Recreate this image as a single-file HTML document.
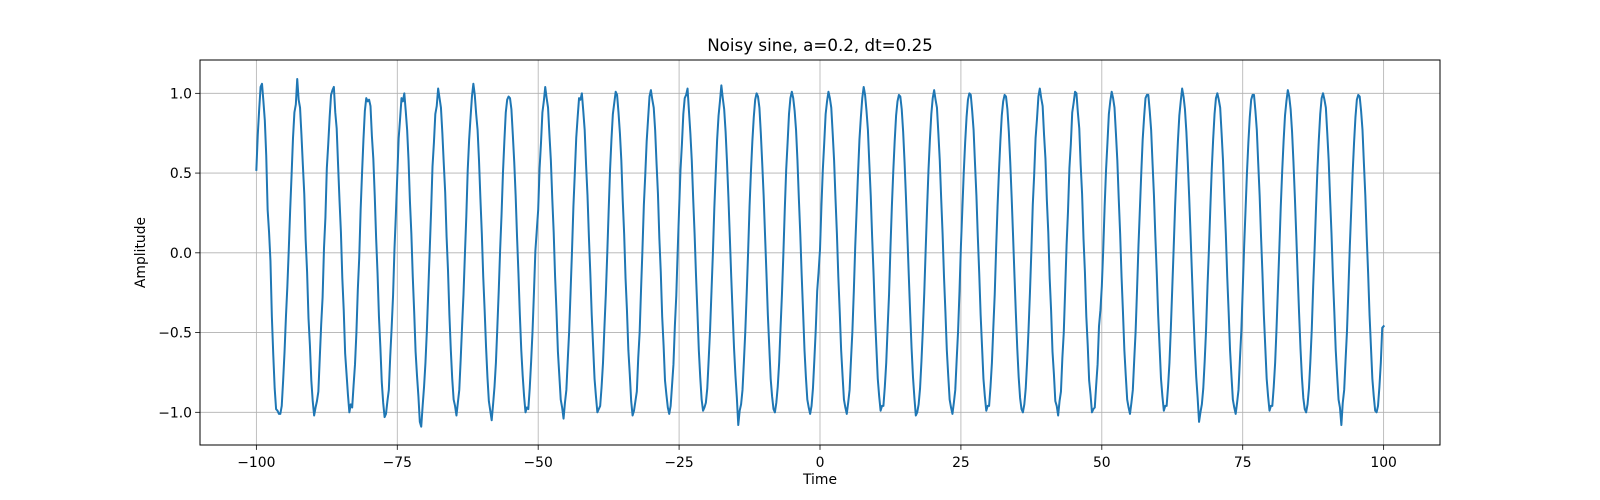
<!DOCTYPE html>
<html><head><meta charset="utf-8"><style>
html,body{margin:0;padding:0;background:#fff;}
svg{display:block;font-family:"DejaVu Sans","Liberation Sans",sans-serif;}
</style></head><body>
<svg id="chart" width="1600" height="500" viewBox="0 0 1600 500" xmlns="http://www.w3.org/2000/svg">
<rect x="0" y="0" width="1600" height="500" fill="#fff"/>
<text x="820" y="51" text-anchor="middle" font-size="16.7" fill="#000">Noisy sine, a=0.2, dt=0.25</text>
<g id="grid"></g>
<g id="series"></g>
<rect x="200" y="60" width="1240" height="385" fill="none" stroke="#000" stroke-width="1"/>
<g id="ticks"></g>
<text x="820" y="484" text-anchor="middle" font-size="13.9" fill="#000">Time</text>
<text x="145" y="252.5" text-anchor="middle" font-size="13.9" fill="#000" transform="rotate(-90 145 252.5)">Amplitude</text>
</svg>
<script>
const tStart = -100;
const dt = 0.25;
const xTicks = [-100, -75, -50, -25, 0, 25, 50, 75, 100];
const xTickLabels = ["\u2212100", "\u221275", "\u221250", "\u221225", "0", "25", "50", "75", "100"];
const yTicks = [-1.0, -0.5, 0.0, 0.5, 1.0];
const yTickLabels = ["\u22121.0", "\u22120.5", "0.0", "0.5", "1.0"];
const amplitude = [
0.52,0.74,0.90,1.04,1.06,0.95,0.83,0.61,0.27,0.13,-0.05,-0.40,-0.64,-0.85,-0.98,-0.99,-1.01,-1.01,-0.96,-0.80,-0.62,-0.40,-0.21,0.02,0.27,
0.49,0.72,0.88,0.93,1.09,0.96,0.91,0.74,0.55,0.37,0.08,-0.12,-0.41,-0.58,-0.80,-0.93,-1.02,-0.97,-0.93,-0.87,-0.66,-0.45,-0.28,0.03,0.22,
0.53,0.68,0.85,0.99,1.02,1.04,0.88,0.78,0.55,0.33,0.13,-0.16,-0.36,-0.63,-0.76,-0.89,-1.00,-0.95,-0.97,-0.83,-0.70,-0.50,-0.23,-0.03,0.27,
0.50,0.71,0.89,0.97,0.95,0.96,0.92,0.73,0.59,0.36,0.09,-0.13,-0.40,-0.59,-0.81,-0.94,-1.03,-1.01,-0.93,-0.86,-0.65,-0.47,-0.27,0.02,0.24,
0.48,0.72,0.84,0.97,0.95,1.00,0.89,0.77,0.58,0.32,0.12,-0.15,-0.37,-0.62,-0.77,-0.90,-1.06,-1.09,-0.96,-0.84,-0.69,-0.49,-0.24,0.01,0.26,
0.54,0.69,0.87,0.92,1.03,0.97,0.91,0.75,0.56,0.38,0.10,-0.11,-0.39,-0.61,-0.79,-0.92,-0.96,-1.02,-0.94,-0.86,-0.67,-0.46,-0.26,-0.01,0.23,
0.52,0.71,0.85,0.98,1.06,0.99,0.87,0.77,0.58,0.34,0.12,-0.15,-0.36,-0.59,-0.78,-0.93,-0.99,-1.05,-0.95,-0.84,-0.69,-0.47,-0.24,0.02,0.24,
0.50,0.70,0.88,0.96,0.98,0.97,0.90,0.74,0.57,0.36,0.10,-0.13,-0.39,-0.61,-0.77,-0.90,-1.00,-0.97,-0.98,-0.85,-0.68,-0.49,-0.25,0.01,0.14,
0.27,0.53,0.69,0.88,0.95,1.04,0.97,0.91,0.74,0.58,0.34,0.13,-0.15,-0.37,-0.62,-0.77,-0.92,-0.97,-1.04,-0.94,-0.86,-0.67,-0.49,-0.24,0.01,
0.29,0.50,0.72,0.85,0.97,0.96,1.00,0.89,0.77,0.55,0.36,0.10,-0.13,-0.39,-0.59,-0.79,-0.90,-1.00,-0.98,-0.96,-0.84,-0.69,-0.47,-0.26,-0.01,
0.26,0.52,0.71,0.87,0.94,1.01,0.99,0.88,0.75,0.58,0.33,0.12,-0.16,-0.36,-0.61,-0.76,-0.93,-1.02,-0.99,-0.93,-0.87,-0.66,-0.50,-0.23,0.02,
0.30,0.49,0.70,0.84,0.98,1.02,0.96,0.91,0.77,0.56,0.37,0.09,-0.12,-0.40,-0.58,-0.80,-0.89,-0.97,-1.01,-0.96,-0.83,-0.70,-0.46,-0.27,0.01,
0.27,0.52,0.68,0.87,0.97,0.99,1.03,0.89,0.75,0.58,0.34,0.12,-0.14,-0.37,-0.61,-0.78,-0.92,-0.99,-0.97,-0.94,-0.85,-0.67,-0.48,-0.24,0.00,
0.28,0.50,0.71,0.86,0.95,1.05,0.97,0.90,0.76,0.57,0.35,0.10,-0.15,-0.38,-0.60,-0.77,-0.91,-1.08,-0.99,-0.95,-0.86,-0.68,-0.49,-0.25,0.01,
0.29,0.51,0.70,0.85,0.96,1.00,0.98,0.91,0.75,0.56,0.36,0.11,-0.13,-0.39,-0.59,-0.79,-0.90,-0.98,-1.00,-0.94,-0.84,-0.69,-0.47,-0.26,-0.01,
0.27,0.52,0.69,0.87,0.97,1.01,0.97,0.89,0.77,0.58,0.34,0.12,-0.14,-0.37,-0.61,-0.78,-0.92,-0.97,-1.01,-0.96,-0.85,-0.67,-0.48,-0.24,-0.12,
0.02,0.29,0.52,0.69,0.87,0.95,1.01,0.97,0.91,0.75,0.58,0.34,0.12,-0.15,-0.37,-0.61,-0.77,-0.92,-0.97,-1.01,-0.94,-0.86,-0.67,-0.49,-0.24,
0.04,0.27,0.50,0.71,0.85,0.97,1.04,0.99,0.89,0.77,0.56,0.36,0.10,-0.13,-0.39,-0.59,-0.79,-0.90,-0.99,-0.96,-0.96,-0.84,-0.69,-0.47,-0.26,
0.03,0.29,0.51,0.70,0.86,0.95,0.99,0.98,0.90,0.76,0.57,0.35,0.11,-0.14,-0.38,-0.60,-0.78,-0.91,-1.02,-1.00,-0.95,-0.85,-0.68,-0.48,-0.25,
0.02,0.28,0.52,0.71,0.87,0.97,1.02,0.96,0.91,0.75,0.58,0.34,0.12,-0.15,-0.37,-0.61,-0.77,-0.92,-0.97,-1.01,-0.94,-0.86,-0.67,-0.49,-0.24,
0.04,0.27,0.50,0.69,0.85,0.96,1.00,0.99,0.89,0.77,0.56,0.36,0.10,-0.13,-0.39,-0.59,-0.79,-0.90,-0.99,-0.96,-0.96,-0.84,-0.69,-0.47,-0.26,
0.03,0.29,0.51,0.70,0.86,0.95,0.99,0.98,0.90,0.76,0.57,0.35,0.11,-0.14,-0.38,-0.60,-0.78,-0.91,-0.98,-1.00,-0.95,-0.85,-0.68,-0.48,-0.25,
0.01,0.30,0.49,0.72,0.84,0.98,1.03,0.97,0.92,0.74,0.59,0.33,0.13,-0.16,-0.36,-0.62,-0.76,-0.93,-0.96,-1.02,-0.93,-0.87,-0.66,-0.50,-0.23,
0.05,0.26,0.53,0.68,0.88,0.94,1.01,1.00,0.88,0.78,0.55,0.37,0.09,-0.12,-0.40,-0.58,-0.80,-0.89,-1.00,-0.98,-0.97,-0.83,-0.70,-0.46,-0.36,
-0.21,0.02,0.29,0.52,0.69,0.87,0.95,1.01,0.97,0.91,0.75,0.58,0.34,0.12,-0.15,-0.37,-0.61,-0.77,-0.92,-0.97,-1.01,-0.94,-0.86,-0.67,-0.49,
-0.23,0.04,0.27,0.50,0.71,0.85,0.97,0.99,0.99,0.89,0.77,0.56,0.36,0.10,-0.13,-0.39,-0.59,-0.79,-0.90,-0.99,-0.96,-0.96,-0.84,-0.69,-0.47,
-0.22,0.03,0.29,0.51,0.70,0.86,0.95,1.03,0.98,0.90,0.76,0.57,0.35,0.11,-0.14,-0.38,-0.60,-0.78,-0.91,-1.06,-1.00,-0.95,-0.85,-0.68,-0.48,
-0.21,0.02,0.28,0.52,0.71,0.87,0.97,1.00,0.96,0.91,0.75,0.58,0.34,0.12,-0.15,-0.37,-0.61,-0.77,-0.92,-0.97,-1.01,-0.94,-0.86,-0.67,-0.49,
-0.23,0.04,0.27,0.50,0.69,0.85,0.96,0.99,0.99,0.89,0.77,0.56,0.36,0.10,-0.13,-0.39,-0.59,-0.79,-0.90,-0.99,-0.96,-0.96,-0.84,-0.69,-0.47,
-0.22,0.03,0.29,0.51,0.70,0.86,0.95,1.02,0.98,0.90,0.76,0.57,0.35,0.11,-0.14,-0.38,-0.60,-0.78,-0.91,-0.98,-1.00,-0.95,-0.85,-0.68,-0.48,
-0.21,0.02,0.28,0.52,0.71,0.87,0.97,1.00,0.96,0.91,0.75,0.58,0.34,0.12,-0.15,-0.37,-0.61,-0.77,-0.92,-0.97,-1.08,-0.94,-0.86,-0.67,-0.49,
-0.23,0.04,0.27,0.50,0.69,0.85,0.96,0.99,0.98,0.89,0.77,0.56,0.36,0.10,-0.13,-0.39,-0.59,-0.79,-0.90,-0.99,-1.00,-0.96,-0.84,-0.69,-0.47,
-0.46
];

const NS = "http://www.w3.org/2000/svg";
const L = 200, R = 1440, T = 60, B = 445;
const XMIN = -110, XMAX = 110, YMIN = -1.205, YMAX = 1.209;
function xScale(v){ return L + (v - XMIN) / (XMAX - XMIN) * (R - L); }
function yScale(v){ return B - (v - YMIN) / (YMAX - YMIN) * (B - T); }
function mk(tag, attrs, parent){
  const el = document.createElementNS(NS, tag);
  for (const k in attrs) el.setAttribute(k, attrs[k]);
  parent.appendChild(el);
  return el;
}
const grid = document.getElementById('grid');
const ticks = document.getElementById('ticks');
xTicks.forEach((v, i) => {
  const x = xScale(v);
  const g = mk('line', {x1:x, x2:x, y1:T, y2:B, stroke:'#b0b0b0', 'stroke-width':0.8}, grid);
  
  
  const t = mk('line', {x1:x, x2:x, y1:B, y2:B+4.9, stroke:'#000', 'stroke-width':0.8}, ticks);
  
  
  const lb = mk('text', {x:x, y:467, 'text-anchor':'middle', 'font-size':13.9, fill:'#000'}, ticks);
  lb.textContent = xTickLabels[i];
  
  
});
yTicks.forEach((v, i) => {
  const y = yScale(v);
  const g = mk('line', {x1:L, x2:R, y1:y, y2:y, stroke:'#b0b0b0', 'stroke-width':0.8}, grid);
  
  
  const t = mk('line', {x1:L-4.9, x2:L, y1:y, y2:y, stroke:'#000', 'stroke-width':0.8}, ticks);
  
  
  const lb = mk('text', {x:L-8, y:y+5, 'text-anchor':'end', 'font-size':13.9, fill:'#000'}, ticks);
  lb.textContent = yTickLabels[i];
  
  
});
const pts = amplitude.map((v, i) => xScale(tStart + i * dt).toFixed(2) + ',' + yScale(v).toFixed(2));
const line = mk('polyline', {points: pts.join(' '), fill:'none', stroke:'#1f77b4', 'stroke-width':2, 'stroke-linejoin':'round', 'stroke-linecap':'square'}, document.getElementById('series'));


</script>
</body></html>
